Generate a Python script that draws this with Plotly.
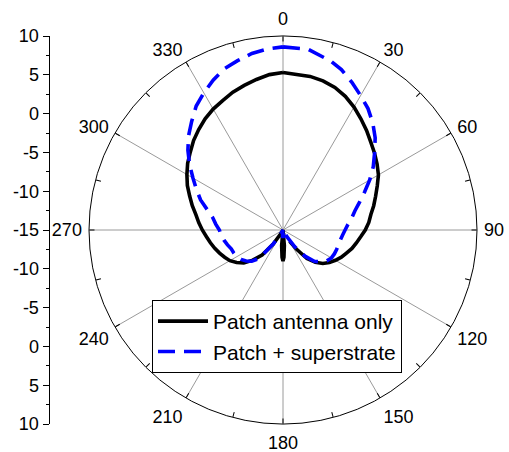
import plotly.graph_objects as go

# ---- data (gain in dB vs angle in degrees) ----
angle_black = [0, 10, 15, 20, 25, 30, 35, 40, 45, 50, 55, 60, 65, 70, 75, 80, 85, 90,
               95, 100, 105, 110, 115, 120, 125, 130, 135, 140, 145, 150, 155,
               172, 175, 178, 180, 182, 185, 188, 200, 205, 210, 215, 220, 225,
               230, 235, 240, 245, 250, 255, 260, 265, 270, 275, 280, 285, 290,
               295, 300, 305, 310, 315, 320, 325, 330, 335, 340, 345, 350, 355, 360]
gain_black = [5.3, 5.1, 4.9, 4.55, 4.0, 3.3, 2.5, 1.75, 1.0, 0.4, -0.2, -0.8, -1.6, -2.3,
              -2.9, -3.5, -3.9, -4.4, -4.95, -5.4, -5.8, -6.3, -6.7, -7.2, -7.7, -8.3,
              -9.1, -10.2, -12.0, -13.3, None,
              -15.0, -13.0, -11.5, -11.0, -11.5, -13.0, -15.0, -15.0, -15.0, -14.5,
              -12.8, -10.8, -9.5, -8.4, -7.7, -7.1, -6.7, -6.3, -5.9, -5.5, -5.1,
              -4.6, -4.1, -3.6, -2.9, -2.2, -1.4, -0.7, 0.0, 0.6, 1.3, 1.9, 2.5,
              3.0, 3.4, 3.9, 4.3, 4.7, 5.1, 5.3]

angle_blue = [0, 8, 16, 20, 25, 30, 35, 40, 45, 50, 55, 60, 65, 70, 75, 80, 85, 90,
              95, 100, 105, 110, 115, 120, 125, 130, 135, 140, 145, 150, 155, 160,
              170, 175, 180, 185, 190, 200, 205, 210, 215, 220, 225, 230, 235, 240,
              245, 250, 255, 260, 265, 270, 275, 280, 285, 290, 295, 300, 305, 310,
              315, 320, 325, 330, 335, 340, 345, 350, 355, 360]
gain_blue = [8.6, 8.5, 7.6, 7.0, 6.0, 5.0, 4.1, 3.0, 1.8, 0.4, -0.8, -2.1, -3.4, -4.5,
             -5.4, -6.0, -6.6, -7.0, -7.3, -7.5, -7.6, -7.65, -7.7, -7.8, -8.1, -8.6,
             -9.3, -10.6, -12.4, -14.0, -15.0, -15.0, -14.8, -14.2, -14.0, -14.2,
             -14.8, -15.0, -15.0, -14.2, -12.8, -10.2, -9.3, -8.8, -8.4, -8.1, -8.0,
             -7.9, -7.6, -7.3, -7.0, -6.8, -6.3, -5.8, -4.9, -3.7, -2.7, -1.6, -0.3,
             1.0, 2.2, 3.3, 4.5, 5.4, 6.3, 7.1, 7.6, 8.1, 8.4, 8.6]

series_names = ["Patch antenna only", "Patch + superstrate"]

angular_ticks = list(range(0, 360, 30))
angular_labels = [str(a) for a in angular_ticks]
angular_minor = list(range(0, 360, 15))

r_min, r_max = -15, 10
left_tickvals = [-25, -20, -15, -10, -5, 0, 5, 10, 15, 20, 25]
left_ticktext = ["10", "5", "0", "-5", "-10", "-15", "-10", "-5", "0", "5", "10"]

FONT = "Liberation Sans, Arial, sans-serif"
W, H = 509, 452
cx, cy, R = 283, 230, 194
pdom_x = [(cx - R) / W, (cx + R) / W]
pdom_y = [(H - cy - R) / H, (H - cy + R) / H]

fig = go.Figure()
fig.add_trace(go.Scatterpolar(
    r=gain_black, theta=angle_black, mode="lines", name=series_names[0],
    line=dict(color="black", width=3.6), connectgaps=False, subplot="polar"))
fig.add_trace(go.Scatterpolar(
    r=gain_blue, theta=angle_blue, mode="lines", name=series_names[1],
    line=dict(color="#0000ff", width=3.6, dash="17px,9px"), subplot="polar"))
# helper traces so the extra subplots exist
fig.add_trace(go.Scatterpolar(r=[], theta=[], subplot="polar2", showlegend=False,
                              hoverinfo="skip"))
fig.add_trace(go.Scatter(x=[], y=[], xaxis="x", yaxis="y", showlegend=False,
                         hoverinfo="skip"))

fig.update_layout(
    width=W, height=H,
    margin=dict(l=0, r=0, t=0, b=0, autoexpand=False),
    paper_bgcolor="white", plot_bgcolor="rgba(0,0,0,0)",
    font=dict(family=FONT, size=18, color="black"),
    polar=dict(
        domain=dict(x=pdom_x, y=pdom_y),
        bgcolor="white",
        angularaxis=dict(rotation=90, direction="clockwise", tickmode="array",
                         tickvals=angular_ticks, ticktext=angular_labels,
                         ticks="outside", ticklen=3, tickcolor="rgba(0,0,0,0)",
                         showline=True, linecolor="black", linewidth=1,
                         showgrid=True, gridcolor="#9a9a9a", gridwidth=1,
                         tickfont=dict(size=18)),
        radialaxis=dict(range=[r_min, r_max], visible=False, showgrid=False),
    ),
    polar2=dict(
        domain=dict(x=pdom_x, y=pdom_y),
        bgcolor="rgba(0,0,0,0)",
        angularaxis=dict(rotation=90, direction="clockwise", tickmode="array",
                         tickvals=angular_minor, ticktext=[""] * len(angular_minor),
                         ticks="inside", ticklen=5, tickcolor="black",
                         showline=False, showgrid=False),
        radialaxis=dict(range=[r_min, r_max], visible=False, showgrid=False),
    ),
    xaxis=dict(domain=[49.5 / W, 60 / W], visible=False, range=[0, 1], fixedrange=True),
    yaxis=dict(domain=pdom_y, range=[-25, 25], anchor="x", side="left",
               tickmode="array", tickvals=left_tickvals, ticktext=left_ticktext,
               ticks="outside", ticklen=6, tickcolor="black",
               showline=True, linecolor="black", linewidth=1,
               showgrid=False, zeroline=False, tickfont=dict(size=18),
               minor=dict(tickmode="linear", tick0=0, dtick=2.5, ticks="outside",
                          ticklen=3, tickcolor="black", showgrid=False)),
    legend=dict(x=152 / W, y=1 - 300 / H, xanchor="left", yanchor="top",
                bgcolor="white", bordercolor="black", borderwidth=1,
                font=dict(size=21), itemwidth=50, tracegroupgap=0),
    showlegend=True,
)

fig.write_html("out.html", config={"displayModeBar": False},
               post_script="document.body.style.margin='0px';")
